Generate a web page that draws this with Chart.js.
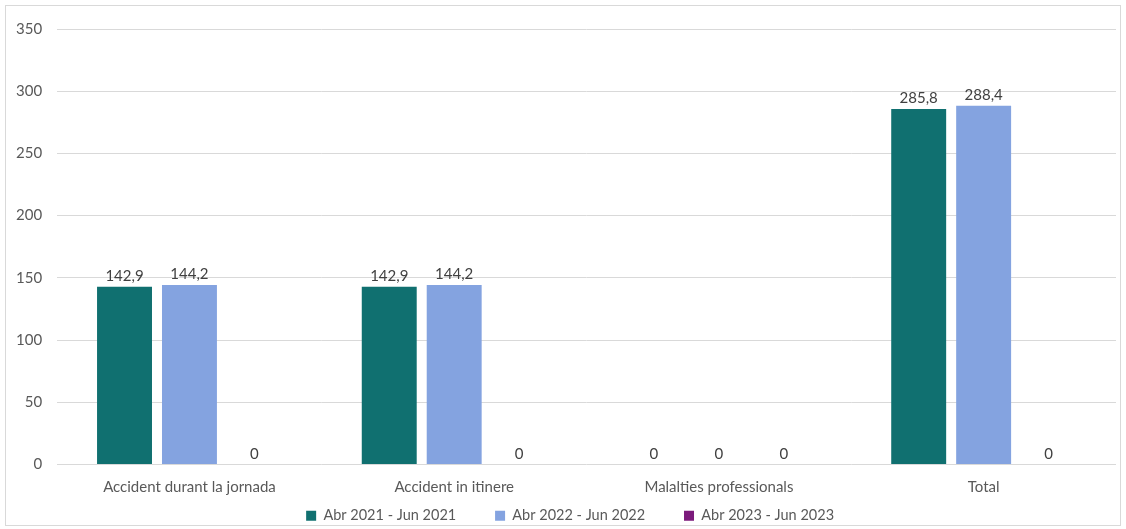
<!DOCTYPE html>
<html>
<head>
<meta charset="utf-8">
<script src="https://cdn.jsdelivr.net/npm/chart.js@4/dist/chart.umd.min.js"></script>
<style>
html,body{margin:0;padding:0;background:#fff;}
#wrap{width:1126px;height:529px;position:relative;}
</style>
</head>
<body>
<div id="wrap"><canvas id="c" width="1126" height="529"></canvas></div>
<script>
const categories = ["Accident durant la jornada", "Accident in itinere", "Malalties professionals", "Total"];
const seriesNames = ["Abr 2021 - Jun 2021", "Abr 2022 - Jun 2022", "Abr 2023 - Jun 2023"];
const values2021 = [142.9, 142.9, 0, 285.8];
const values2022 = [144.2, 144.2, 0, 288.4];
const values2023 = [0, 0, 0, 0];
const yTicks = [0, 50, 100, 150, 200, 250, 300, 350];
const colors = ["#107070", "#84A3E0", "#7B1A7B"];

const FONT = "Lato, 'Open Sans', sans-serif";
const FS = 15;

const borderPlugin = {
  id: 'outerBorder',
  beforeDraw(chart) {
    const ctx = chart.ctx;
    ctx.save();
    ctx.fillStyle = '#fff';
    ctx.fillRect(0, 0, chart.width, chart.height);
    ctx.strokeStyle = '#d9d9d9';
    ctx.lineWidth = 1;
    ctx.strokeRect(5.5, 5.5, chart.width - 11, chart.height - 9);
    ctx.restore();
  }
};

const labelPlugin = {
  id: 'valueLabels',
  afterDatasetsDraw(chart) {
    const ctx = chart.ctx;
    ctx.save();
    ctx.font = FS + "px " + FONT;
    ctx.fillStyle = '#404040';
    ctx.textAlign = 'center';
    ctx.textBaseline = 'alphabetic';
    chart.data.datasets.forEach((ds, i) => {
      const meta = chart.getDatasetMeta(i);
      meta.data.forEach((el, j) => {
        const v = ds.data[j];
        const txt = v.toLocaleString('es-ES', {maximumFractionDigits: 1});
        ctx.fillText(txt, el.x, el.y - 6);
      });
    });
    ctx.restore();
  }
};

new Chart(document.getElementById('c'), {
  type: 'bar',
  data: {
    labels: categories,
    datasets: [
      {label: seriesNames[0], data: values2021, backgroundColor: colors[0]},
      {label: seriesNames[1], data: values2022, backgroundColor: colors[1]},
      {label: seriesNames[2], data: values2023, backgroundColor: colors[2]}
    ]
  },
  options: {
    responsive: false,
    animation: false,
    devicePixelRatio: 1,
    layout: {padding: {left: 1, right: 10, top: 29, bottom: -4}},
    datasets: {bar: {categoryPercentage: 0.736, barPercentage: 0.846}},
    plugins: {
      legend: {
        position: 'bottom',
        fullSize: false,
        labels: {
          boxWidth: 10, boxHeight: 10, padding: 6, color: '#595959',
          font: {family: FONT, size: 14.5},
          generateLabels(chart) {
            const items = Chart.defaults.plugins.legend.labels.generateLabels(chart);
            items.forEach((it, i) => {
              it.lineWidth = 0;
              it.text = it.text + '\u2003\u2003   ';
            });
            return items;
          }
        }
      },
      tooltip: {enabled: false}
    },
    scales: {
      x: {
        grid: {display: false},
        border: {display: false},
        ticks: {color: '#595959', font: {family: FONT, size: FS}, padding: 6}
      },
      y: {
        min: 0, max: 350,
        afterBuildTicks(axis) { axis.ticks = yTicks.map(v => ({value: v})); },
        grid: {color: '#d9d9d9', drawTicks: false},
        border: {display: false},
        ticks: {color: '#595959', font: {family: FONT, size: FS}, padding: 15}
      }
    }
  },
  plugins: [borderPlugin, labelPlugin]
});
</script>
</body>
</html>
